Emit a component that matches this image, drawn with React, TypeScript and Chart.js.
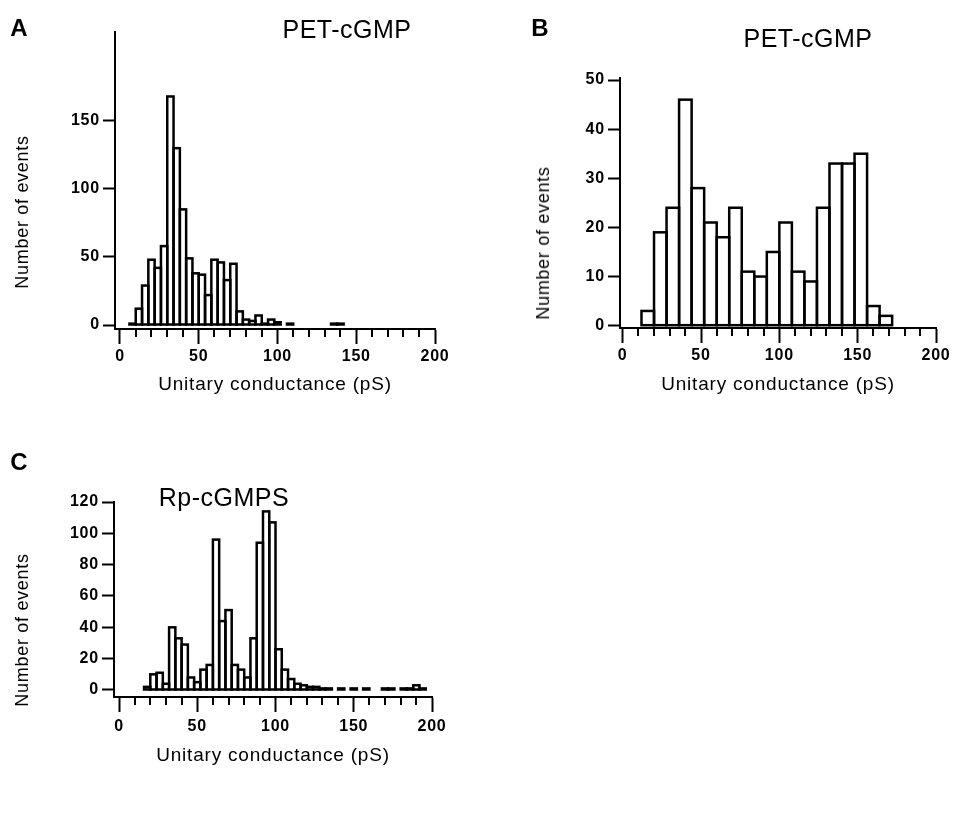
import React, { useEffect, useRef } from "react";
import { Chart, registerables } from "chart.js";

Chart.register(...registerables);

const FONT = '"Liberation Sans", Arial, Helvetica, sans-serif';

// ---- Data ----
// Panel A: PET-cGMP (4 pS bins, left edges)
const binStartsA = [6, 10, 14, 18, 22, 26, 30, 34, 38, 42, 46, 50, 54, 58, 62, 66, 70, 74, 78, 82, 86, 90, 94, 98, 102, 106, 110, 114, 118, 122, 126, 130, 134, 138];
const countsA = [1, 12, 29, 48, 42, 58, 168, 130, 85, 49, 38, 37, 22, 48, 46, 33, 45, 10, 4, 3, 7, 1, 4, 2, 0, 1, 0, 0, 0, 0, 0, 0, 1, 1];
const binWidthA = 4;

// Panel B: PET-cGMP (8 pS bins, left edges)
const binStartsB = [12, 20, 28, 36, 44, 52, 60, 68, 76, 84, 92, 100, 108, 116, 124, 132, 140, 148, 156, 164];
const countsB = [3, 19, 24, 46, 28, 21, 18, 24, 11, 10, 15, 21, 11, 9, 24, 33, 33, 35, 4, 2];
const binWidthB = 8;

// Panel C: Rp-cGMPS (4 pS bins, left edges)
const binStartsC = [16, 20, 24, 28, 32, 36, 40, 44, 48, 52, 56, 60, 64, 68, 72, 76, 80, 84, 88, 92, 96, 100, 104, 108, 112, 116, 120, 124, 128, 132, 136, 140, 144, 148, 152, 156, 160, 164, 168, 172, 176, 180, 184, 188, 192];
const countsC = [2, 10, 11, 4, 40, 33, 29, 8, 5, 13, 16, 96, 44, 51, 16, 13, 8, 33, 94, 114, 107, 26, 13, 7, 4, 3, 2, 2, 1, 1, 0, 1, 0, 1, 0, 1, 0, 0, 1, 1, 0, 1, 1, 3, 1];
const binWidthC = 4;

// Tick labels
const xTickValues = [0, 10, 20, 30, 40, 50, 60, 70, 80, 90, 100, 110, 120, 130, 140, 150, 160, 170, 180, 190, 200];
const yTicksA = [0, 50, 100, 150];
const yTicksB = [0, 10, 20, 30, 40, 50];
const yTicksC = [0, 20, 40, 60, 80, 100, 120];

const xTitle = "Unitary conductance (pS)";
const yTitle = "Number of events";

type PanelCfg = {
  starts: number[];
  counts: number[];
  binWidth: number;
  yTicks: number[];
  xMin: number;
  xMax: number;
  yMin: number;
  yMax: number;
  yAxisWidth: number;
  xAxisHeight: number;
  padTop: number;
  padRight: number;
  xTickPad: number;
};

// Draws minor x ticks, letter spacing, and histogram outlines (stroked on the bar elements' own geometry)
const histPlugin = {
  id: "histOutline",
  beforeDraw(chart: any) {
    chart.ctx.letterSpacing = "0.8px";
  },
  afterDatasetsDraw(chart: any) {
    const ctx = chart.ctx;
    const meta = chart.getDatasetMeta(0);
    const ds = chart.data.datasets[0];
    ctx.save();
    ctx.strokeStyle = "#000";
    ctx.lineWidth = 2.5;
    ctx.lineJoin = "miter";
    meta.data.forEach((el: any, i: number) => {
      const v = ds.data[i].y;
      if (!v) return;
      const p = el.getProps(["x", "y", "base", "width"], true);
      ctx.strokeRect(p.x - p.width / 2, p.y, p.width, p.base - p.y);
    });
    ctx.restore();
  },
  afterDraw(chart: any) {
    const sx = chart.scales.x;
    const ctx = chart.ctx;
    const y0 = chart.chartArea.bottom;
    ctx.save();
    ctx.strokeStyle = "#000";
    ctx.lineWidth = 2;
    for (const t of sx.ticks) {
      if (t.value % 50 !== 0) {
        const px = Math.round(sx.getPixelForValue(t.value));
        ctx.beginPath();
        ctx.moveTo(px, y0);
        ctx.lineTo(px, y0 + 8);
        ctx.stroke();
      }
    }
    ctx.restore();
    ctx.letterSpacing = "0px";
  },
};

function Panel({ cfg, left, top, width, height }: { cfg: PanelCfg; left: number; top: number; width: number; height: number }) {
  const ref = useRef<HTMLCanvasElement | null>(null);
  useEffect(() => {
    if (!ref.current) return;
    const data = cfg.starts.map((s, i) => ({ x: s + cfg.binWidth / 2, y: cfg.counts[i] }));
    const tickFont = { family: FONT, size: 16, weight: "bold" as const };
    const chart = new Chart(ref.current, {
      type: "bar",
      data: {
        datasets: [
          {
            data: data as any,
            backgroundColor: "#ffffff",
            borderWidth: 0,
            barPercentage: 1,
            categoryPercentage: 1,
            inflateAmount: 0,
          } as any,
        ],
      },
      options: {
        responsive: false,
        animation: false,
        devicePixelRatio: 1,
        layout: { padding: { top: cfg.padTop, right: cfg.padRight, left: 0, bottom: 0 } },
        plugins: {
          legend: { display: false },
          tooltip: { enabled: false },
          title: { display: false },
        },
        scales: {
          x: {
            type: "linear",
            min: cfg.xMin,
            max: cfg.xMax,
            offset: false,
            afterBuildTicks: (s: any) => {
              s.ticks = xTickValues.map((v) => ({ value: v }));
            },
            afterFit: (s: any) => {
              s.height = cfg.xAxisHeight;
            },
            ticks: {
              autoSkip: false,
              maxRotation: 0,
              minRotation: 0,
              padding: cfg.xTickPad,
              color: "#000",
              font: tickFont,
              callback: (v: any) => (Number(v) % 50 === 0 ? String(v) : ""),
            },
            grid: {
              display: true,
              drawOnChartArea: false,
              drawTicks: true,
              offset: false,
              tickLength: 15,
              tickWidth: 2,
              tickColor: (ctx: any) => (ctx.tick && ctx.tick.value % 50 === 0 ? "#000" : "rgba(0,0,0,0)"),
            },
            border: { display: true, color: "#000", width: 2 },
            title: {
              display: true,
              text: xTitle,
              color: "#000",
              font: { family: FONT, size: 19 },
              padding: 0,
            },
          },
          y: {
            type: "linear",
            min: cfg.yMin,
            max: cfg.yMax,
            afterBuildTicks: (s: any) => {
              s.ticks = cfg.yTicks.map((v) => ({ value: v }));
            },
            afterFit: (s: any) => {
              s.width = cfg.yAxisWidth;
            },
            ticks: {
              padding: 3,
              color: "#000",
              font: tickFont,
            },
            grid: {
              display: true,
              drawOnChartArea: false,
              drawTicks: true,
              tickLength: 12,
              tickWidth: 2,
              tickColor: "#000",
            },
            border: { display: true, color: "#000", width: 2 },
            title: { display: false },
          },
        },
      },
      plugins: [histPlugin],
    });
    return () => chart.destroy();
  }, [cfg]);
  return (
    <canvas
      ref={ref}
      width={width}
      height={height}
      style={{ position: "absolute", left, top, width, height, display: "block" }}
    />
  );
}

const cfgA: PanelCfg = {
  starts: binStartsA,
  counts: countsA,
  binWidth: binWidthA,
  yTicks: yTicksA,
  xMin: -3.17,
  xMax: 200,
  yMin: -2.94,
  yMax: 215.4,
  yAxisWidth: 115,
  xAxisHeight: 67,
  padTop: 32,
  padRight: 25,
  xTickPad: 3,
};

const cfgB: PanelCfg = {
  starts: binStartsB,
  counts: countsB,
  binWidth: binWidthB,
  yTicks: yTicksB,
  xMin: -1.72,
  xMax: 200,
  yMin: -0.47,
  yMax: 50.41,
  yAxisWidth: 120,
  xAxisHeight: 68,
  padTop: 78,
  padRight: 18,
  xTickPad: 3,
};

const cfgC: PanelCfg = {
  starts: binStartsC,
  counts: countsC,
  binWidth: binWidthC,
  yTicks: yTicksC,
  xMin: -3.2,
  xMax: 200,
  yMin: -4.47,
  yMax: 120,
  yAxisWidth: 114,
  xAxisHeight: 70,
  padTop: 62,
  padRight: 28,
  xTickPad: 5,
};

function Text({ text, cx, cy, size, bold, rotate, spacing }: { text: string; cx: number; cy: number; size: number; bold?: boolean; rotate?: boolean; spacing?: number }) {
  return (
    <div
      style={{
        position: "absolute",
        left: cx,
        top: cy,
        transform: `translate(-50%, -50%)${rotate ? " rotate(-90deg)" : ""}`,
        fontFamily: FONT,
        fontSize: size,
        fontWeight: bold ? 700 : 400,
        lineHeight: `${size}px`,
        whiteSpace: "nowrap",
        letterSpacing: spacing ? `${spacing}px` : undefined,
        color: "#000",
      }}
    >
      {text}
    </div>
  );
}

export default function App() {
  return (
    <div style={{ position: "absolute", left: 0, top: 0, width: 956, height: 822, background: "#fff", overflow: "hidden" }}>
      <Panel cfg={cfgA} left={0} top={0} width={460} height={396} />
      <Panel cfg={cfgB} left={500} top={0} width={454} height={396} />
      <Panel cfg={cfgC} left={0} top={440} width={460} height={327} />

      <Text text="A" cx={19} cy={28} size={24} bold />
      <Text text="B" cx={540} cy={28} size={24} bold />
      <Text text="C" cx={19} cy={462} size={24} bold />

      <Text text="PET-cGMP" cx={347} cy={29} size={25} spacing={0.5} />
      <Text text="PET-cGMP" cx={808} cy={38} size={25} spacing={0.5} />
      <Text text="Rp-cGMPS" cx={224} cy={497} size={25} spacing={0.5} />

      <Text text={yTitle} cx={22} cy={212} size={18} rotate spacing={0.7} />
      <Text text={yTitle} cx={543} cy={243} size={18} rotate spacing={0.7} />
      <Text text={yTitle} cx={22} cy={630} size={18} rotate spacing={0.7} />
    </div>
  );
}
